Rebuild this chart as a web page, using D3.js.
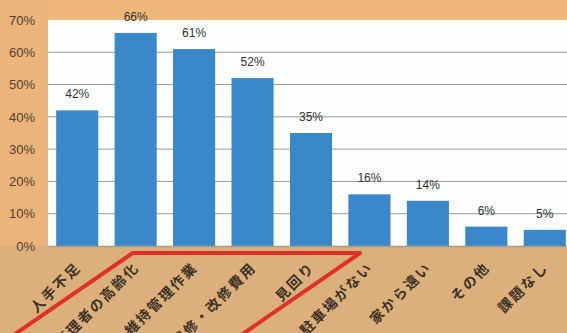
<!DOCTYPE html>
<html>
<head>
<meta charset="utf-8">
<script src="https://cdn.jsdelivr.net/npm/d3@7"></script>
<style>
  html, body { margin: 0; padding: 0; background: #e4b47f; }
  svg { display: block; }
</style>
</head>
<body>
<svg id="chart" width="567" height="333"></svg>
<script>
const categories = ['人手不足', '管理者の高齢化', '維持管理作業', '補修・改修費用', '見回り', '駐車場がない', '家から遠い', 'その他', '課題なし'];
const values = [42, 66, 61, 52, 35, 16, 14, 6, 5];
const yTicks = [0, 10, 20, 30, 40, 50, 60, 70];
// categories circled in red on the original
const highlighted = ['管理者の高齢化', '維持管理作業', '補修・改修費用', '見回り'];

const width = 567;
const height = 333;
const margin = { top: 20, right: -7, bottom: 87, left: 48 };

const svg = d3.select('#chart');

const x = d3.scaleBand()
  .domain(categories)
  .range([margin.left, width - margin.right])
  .paddingInner(0.28)
  .paddingOuter(0.14);

const y = d3.scaleLinear()
  .domain([0, 70])
  .range([height - margin.bottom, margin.top]);

// backgrounds
svg.append('rect').attr('width', width).attr('height', height).attr('fill', '#e2b27d');
svg.append('rect').attr('width', width).attr('height', margin.top).attr('fill', '#efb87a');
svg.append('rect').attr('width', margin.left).attr('height', y(0)).attr('fill', '#ebb47a');
svg.append('rect')
  .attr('x', 0).attr('y', y(0))
  .attr('width', width).attr('height', height - y(0))
  .attr('fill', '#dcb07d');
svg.append('rect')
  .attr('x', margin.left).attr('y', y(70))
  .attr('width', width - margin.left).attr('height', y(0) - y(70))
  .attr('fill', '#fcfdfd');

// grid
svg.append('g')
  .selectAll('line')
  .data(yTicks.filter(d => d > 0 && d < 70))
  .enter()
  .append('line')
  .attr('x1', margin.left).attr('x2', width)
  .attr('y1', d => y(d)).attr('y2', d => y(d))
  .attr('stroke', '#9a9a9a')
  .attr('stroke-width', 1);

// y axis labels
const yAxis = svg.append('g')
  .attr('transform', `translate(${margin.left - 13},0)`)
  .call(d3.axisLeft(y).tickValues(yTicks).tickFormat(d => d + '%').tickSize(0).tickPadding(0));
yAxis.select('.domain').remove();
yAxis.selectAll('text')
  .attr('font-family', 'Liberation Sans, Arial, sans-serif')
  .attr('font-size', 13)
  .attr('fill', '#4e4234');

// bars
svg.append('g')
  .selectAll('rect')
  .data(values)
  .enter()
  .append('rect')
  .attr('x', (d, i) => x(categories[i]))
  .attr('y', d => y(d))
  .attr('width', x.bandwidth())
  .attr('height', d => y(0) - y(d))
  .attr('fill', '#3a88c9');

// baseline
svg.append('line')
  .attr('x1', margin.left).attr('x2', width)
  .attr('y1', y(0) + 0.5).attr('y2', y(0) + 0.5)
  .attr('stroke', '#a89a88')
  .attr('stroke-width', 1.5);

// value labels
svg.append('g')
  .selectAll('text')
  .data(values)
  .enter()
  .append('text')
  .attr('x', (d, i) => x(categories[i]) + x.bandwidth() / 2)
  .attr('y', d => y(d) - 12)
  .attr('text-anchor', 'middle')
  .attr('font-family', 'Liberation Sans, Arial, sans-serif')
  .attr('font-size', 12)
  .attr('fill', '#333')
  .text(d => d + '%');

// category labels
svg.append('g')
  .selectAll('text')
  .data(categories)
  .enter()
  .append('text')
  .attr('transform', d => `translate(${x(d) + x.bandwidth() / 2 + 1},${y(0) + 19}) rotate(-45)`)
  .attr('text-anchor', 'end')
  .attr('dy', '0.35em')
  .attr('font-family', 'Noto Sans CJK JP, sans-serif')
  .attr('font-weight', 'bold')
  .attr('font-size', 14)
  .attr('letter-spacing', 2)
  .attr('fill', '#3c3327')
  .text(d => d);

// red outline around highlighted labels
const first = highlighted[0];
const last = highlighted[highlighted.length - 1];
const topY = y(0) + 7;
const drop = height + 6 - topY;
const x0 = x(first) + 18;
const x1 = x(last) + x.bandwidth() + 28;
const outline = [
  [x0 - drop * 1.45, topY + drop],
  [x0, topY],
  [x1, topY],
  [x1 - drop * 1.45, topY + drop]
];
svg.append('path')
  .attr('d', d3.line()(outline))
  .attr('fill', 'none')
  .attr('stroke', '#e0302a')
  .attr('stroke-width', 4)
  .attr('stroke-linejoin', 'round');
</script>
</body>
</html>
